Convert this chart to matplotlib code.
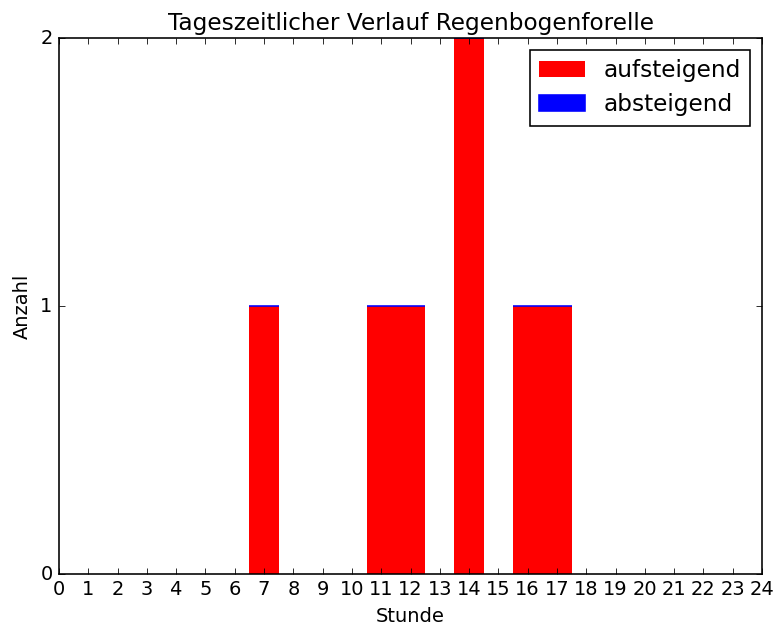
"""
Tageszeitlicher Verlauf Regenbogenforelle
"""
import matplotlib
matplotlib.use("Agg")
import matplotlib.pyplot as plt

hours = list(range(24))
aufsteigend = [0, 0, 0, 0, 0, 0, 0, 1, 0, 0, 0, 1, 1, 0, 2, 0, 1, 1,
               0, 0, 0, 0, 0, 0]
absteigend = [0] * 24

DPI = 116


def plot():
    plt.style.use("classic")
    fig = plt.figure(figsize=(776 / DPI, 627 / DPI), dpi=DPI,
                     facecolor="white")
    ax = fig.add_axes([59 / 776, 1 - 574 / 627, 703 / 776, 536 / 627])
    ax.bar(hours, aufsteigend, width=1.0, align="center", color="red",
           linewidth=0, label="aufsteigend")
    # only hours with any fish get a (possibly zero-height) blue bar
    idx = [i for i in range(len(hours)) if aufsteigend[i] + absteigend[i] > 0]
    ax.bar([hours[i] for i in idx], [absteigend[i] for i in idx], width=1.0,
           align="center", bottom=[aufsteigend[i] for i in idx],
           color="blue", edgecolor="blue", linewidth=1.0, label="absteigend")
    ax.set_xlim(0, 24)
    ax.set_ylim(0, 2)
    ax.set_xticks(range(25))
    ax.set_yticks([0, 1, 2])
    ax.set_xlabel("Stunde")
    ax.set_ylabel("Anzahl")
    ax.set_title("Tageszeitlicher Verlauf Regenbogenforelle")
    ax.legend(loc="upper right")
    fig.savefig("out.png", dpi=DPI, facecolor="white")


if __name__ == "__main__":
    plot()
